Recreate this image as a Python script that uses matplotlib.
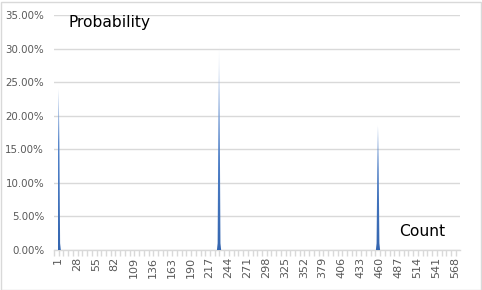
import numpy as np
import matplotlib
matplotlib.use("Agg")
import matplotlib.pyplot as plt
from matplotlib.colors import LinearSegmentedColormap
from matplotlib.patches import Rectangle

# ---- data ----
n_categories = 577
categories = np.arange(1, n_categories + 1)
x_tick_labels = [1, 28, 55, 82, 109, 136, 163, 190, 217, 244, 271, 298,
                 325, 352, 379, 406, 433, 460, 487, 514, 541, 568]
y_ticks = [0.0, 0.05, 0.10, 0.15, 0.20, 0.25, 0.30, 0.35]

peak1_cats = [1, 2, 3, 4]
peak1_vals = [0.16, 0.24, 0.16, 0.01]
peak2_cats = [229, 230, 231, 232, 233]
peak2_vals = [0.01, 0.19, 0.305, 0.19, 0.01]
peak3_cats = [456, 457, 458, 459, 460]
peak3_vals = [0.01, 0.12, 0.185, 0.12, 0.01]

probability = np.zeros(n_categories)
for cats, vals in [(peak1_cats, peak1_vals), (peak2_cats, peak2_vals), (peak3_cats, peak3_vals)]:
    for c, v in zip(cats, vals):
        probability[c - 1] = v

# ---- figure ----
W, H = 482, 290
fig = plt.figure(figsize=(W / 100, H / 100), dpi=100)
fig.patch.set_facecolor("white")
ax = fig.add_axes([54 / W, 40 / H, (460 - 54) / W, (250 - 15) / H])

grey_txt = "#595959"
grid_col = "#D9D9D9"

# category axis: category 1 at px 58, category 568 at px 455
px_per_cat = (455 - 58) / 567
x_left = 1 - (58 - 54) / px_per_cat
x_right = 568 + (460 - 455) / px_per_cat
ax.set_xlim(x_left, x_right)
ax.set_ylim(0, 0.35)

poly = ax.fill_between(categories, probability, 0, color="none", lw=0)
cmap = LinearSegmentedColormap.from_list(
    "g", [(0.0, "#3566B0"), (0.45, "#4F80C8"), (0.75, "#8EADDD"), (1.0, "#FFFFFF")])
grad = np.linspace(0, 1, 256).reshape(-1, 1)
im = ax.imshow(grad, cmap=cmap, origin="lower", aspect="auto",
               extent=[x_left, x_right, 0, 0.31], zorder=3)
path = poly.get_paths()[0]
im.set_clip_path(path, transform=ax.transData)

ax.set_yticks(y_ticks)
ax.set_yticklabels([f"{v*100:.2f}%" for v in y_ticks])
ax.yaxis.grid(True, color=grid_col, lw=1)
ax.set_axisbelow(True)
ax.tick_params(axis="y", length=0, pad=7, labelsize=7.4, labelcolor=grey_txt)

ax.set_xticks(x_tick_labels)
ax.set_xticklabels([str(v) for v in x_tick_labels], rotation=90)
ax.set_xticks(np.arange(x_left, x_right + 0.01, 6.75), minor=True)
ax.tick_params(axis="x", which="major", length=0, pad=5, labelsize=8, labelcolor=grey_txt)
ax.tick_params(axis="x", which="minor", length=4, color=grid_col, width=1)

for s in ["top", "right", "left"]:
    ax.spines[s].set_visible(False)
ax.spines["bottom"].set_color(grid_col)
ax.spines["bottom"].set_linewidth(1)

fig.text(68 / W, 1 - 22 / H, "Probability", fontsize=11.2, color="black", va="center", ha="left")
fig.text(399 / W, 1 - 232 / H, "Count", fontsize=11.2, color="black", va="center", ha="left")

fig.patches.append(Rectangle((0.5 / W, 0.5 / H), (W - 2) / W, (H - 2) / H,
                             transform=fig.transFigure, fill=False,
                             edgecolor=grid_col, lw=1))

fig.savefig("out.png", dpi=100)
